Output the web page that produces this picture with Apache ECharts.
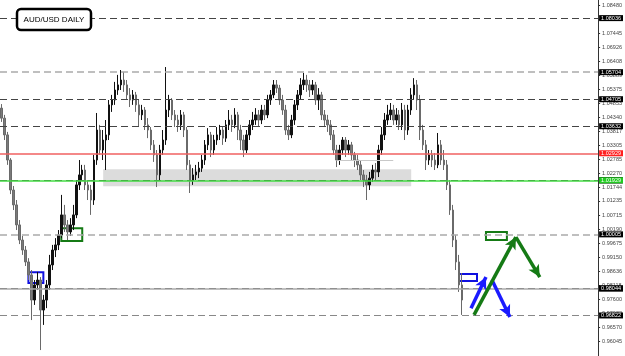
<!DOCTYPE html>
<html>
<head>
<meta charset="utf-8">
<script src="https://cdn.jsdelivr.net/npm/echarts@6/dist/echarts.min.js"></script>
<style>
  html, body { margin: 0; padding: 0; background: #fff; }
  #main { width: 625px; height: 356px; }
</style>
</head>
<body>
<div id="main"></div>
<script>
// AUD/USD daily candles
var opens = [1.0467,1.0430,1.0368,1.0275,1.0164,1.0109,1.0035,0.9979,0.9942,0.9898,
  0.9850,0.9757,0.9813,0.9831,0.9720,0.9757,0.9813,0.9887,0.9942,0.9961,
  0.9998,1.0072,1.0035,1.0009,1.0035,1.0072,1.0183,1.0220,1.0238,1.0183,
  1.0164,1.0127,1.0275,1.0386,1.0312,1.0349,1.0368,1.0479,1.0497,1.0534,
  1.0553,1.0571,1.0553,1.0516,1.0497,1.0516,1.0479,1.0442,1.0460,1.0405,
  1.0386,1.0331,1.0294,1.0220,1.0312,1.0349,1.0460,1.0497,1.0442,1.0423,
  1.0405,1.0442,1.0386,1.0257,1.0201,1.0220,1.0231,1.0245,1.0275,1.0331,
  1.0368,1.0312,1.0349,1.0368,1.0386,1.0356,1.0405,1.0423,1.0405,1.0442,
  1.0386,1.0349,1.0312,1.0368,1.0405,1.0423,1.0442,1.0423,1.0460,1.0442,
  1.0497,1.0516,1.0553,1.0541,1.0497,1.0460,1.0386,1.0368,1.0423,1.0479,
  1.0516,1.0553,1.0571,1.0553,1.0534,1.0553,1.0497,1.0516,1.0442,1.0423,
  1.0405,1.0368,1.0312,1.0275,1.0312,1.0349,1.0312,1.0331,1.0294,1.0275,
  1.0257,1.0220,1.0201,1.0183,1.0208,1.0238,1.0231,1.0312,1.0368,1.0423,
  1.0442,1.0460,1.0423,1.0442,1.0405,1.0460,1.0386,1.0460,1.0516,1.0553,
  1.0497,1.0386,1.0331,1.0275,1.0294,1.0275,1.0257,1.0331,1.0275,1.0257,
  1.0183,1.0090,0.9979,0.9898,0.9813];
var closes = [1.0430,1.0368,1.0275,1.0164,1.0109,1.0035,0.9979,0.9942,0.9898,0.9850,
  0.9757,0.9813,0.9831,0.9720,0.9757,0.9813,0.9887,0.9942,0.9961,0.9998,
  1.0072,1.0035,1.0009,1.0035,1.0072,1.0183,1.0220,1.0238,1.0183,1.0164,
  1.0127,1.0275,1.0386,1.0312,1.0349,1.0368,1.0479,1.0497,1.0534,1.0553,
  1.0571,1.0553,1.0516,1.0497,1.0516,1.0479,1.0442,1.0460,1.0405,1.0386,
  1.0331,1.0294,1.0220,1.0312,1.0349,1.0460,1.0497,1.0442,1.0423,1.0405,
  1.0442,1.0386,1.0257,1.0201,1.0220,1.0231,1.0245,1.0275,1.0331,1.0368,
  1.0312,1.0349,1.0368,1.0386,1.0356,1.0405,1.0423,1.0405,1.0442,1.0386,
  1.0349,1.0312,1.0368,1.0405,1.0423,1.0442,1.0423,1.0460,1.0442,1.0497,
  1.0516,1.0553,1.0541,1.0497,1.0460,1.0386,1.0368,1.0423,1.0479,1.0516,
  1.0553,1.0571,1.0553,1.0534,1.0553,1.0497,1.0516,1.0442,1.0423,1.0405,
  1.0368,1.0312,1.0275,1.0312,1.0349,1.0312,1.0331,1.0294,1.0275,1.0257,
  1.0220,1.0201,1.0183,1.0208,1.0238,1.0231,1.0312,1.0368,1.0423,1.0442,
  1.0460,1.0423,1.0442,1.0405,1.0460,1.0386,1.0460,1.0516,1.0553,1.0497,
  1.0386,1.0331,1.0275,1.0294,1.0275,1.0257,1.0331,1.0275,1.0257,1.0183,
  1.0090,0.9979,0.9898,0.9813,0.9757];
var lows = [1.0416,1.0349,1.0257,1.0149,1.0090,1.0016,0.9964,0.9924,0.9883,0.9831,
  0.9683,0.9739,0.9794,0.9572,0.9665,0.9727,0.9794,0.9868,0.9916,0.9942,
  0.9986,1.0009,0.9979,0.9994,1.0016,1.0060,1.0164,1.0201,1.0164,1.0127,
  1.0072,1.0109,1.0257,1.0294,1.0275,1.0238,1.0349,1.0453,1.0479,1.0516,
  1.0534,1.0527,1.0497,1.0471,1.0479,1.0453,1.0397,1.0423,1.0386,1.0356,
  1.0312,1.0268,1.0175,1.0201,1.0294,1.0331,1.0434,1.0423,1.0397,1.0379,
  1.0386,1.0360,1.0238,1.0153,1.0183,1.0201,1.0208,1.0231,1.0257,1.0312,
  1.0286,1.0294,1.0331,1.0349,1.0331,1.0342,1.0386,1.0379,1.0393,1.0349,
  1.0312,1.0286,1.0301,1.0349,1.0386,1.0405,1.0397,1.0408,1.0423,1.0430,
  1.0479,1.0504,1.0523,1.0479,1.0442,1.0368,1.0349,1.0356,1.0405,1.0460,
  1.0497,1.0534,1.0527,1.0508,1.0516,1.0479,1.0460,1.0423,1.0397,1.0379,
  1.0349,1.0294,1.0249,1.0257,1.0294,1.0286,1.0294,1.0275,1.0249,1.0238,
  1.0201,1.0175,1.0127,1.0164,1.0194,1.0201,1.0212,1.0294,1.0349,1.0405,
  1.0423,1.0405,1.0405,1.0386,1.0386,1.0349,1.0368,1.0442,1.0497,1.0460,
  1.0349,1.0312,1.0238,1.0257,1.0249,1.0238,1.0245,1.0257,1.0238,1.0164,
  1.0072,0.9953,0.9868,0.9787,0.9702];
var highs = [1.0482,1.0442,1.0379,1.0282,1.0179,1.0127,1.0053,0.9994,0.9957,0.9912,
  0.9868,0.9831,0.9861,0.9842,0.9776,0.9831,0.9924,0.9961,0.9986,1.0016,
  1.0146,1.0109,1.0053,1.0060,1.0109,1.0201,1.0275,1.0257,1.0257,1.0201,
  1.0183,1.0294,1.0449,1.0405,1.0386,1.0423,1.0497,1.0516,1.0564,1.0590,
  1.0608,1.0601,1.0571,1.0541,1.0534,1.0527,1.0497,1.0479,1.0471,1.0430,
  1.0397,1.0349,1.0312,1.0331,1.0386,1.0619,1.0516,1.0504,1.0460,1.0442,
  1.0460,1.0453,1.0397,1.0275,1.0245,1.0257,1.0268,1.0294,1.0349,1.0393,
  1.0379,1.0368,1.0397,1.0405,1.0397,1.0423,1.0460,1.0442,1.0467,1.0453,
  1.0405,1.0368,1.0386,1.0423,1.0453,1.0467,1.0460,1.0479,1.0479,1.0516,
  1.0534,1.0571,1.0571,1.0553,1.0516,1.0479,1.0405,1.0442,1.0497,1.0534,
  1.0578,1.0597,1.0590,1.0571,1.0571,1.0564,1.0541,1.0527,1.0460,1.0442,
  1.0423,1.0386,1.0331,1.0331,1.0360,1.0360,1.0349,1.0342,1.0305,1.0294,
  1.0275,1.0238,1.0220,1.0231,1.0257,1.0264,1.0331,1.0397,1.0449,1.0479,
  1.0486,1.0479,1.0467,1.0460,1.0486,1.0479,1.0479,1.0541,1.0578,1.0571,
  1.0516,1.0405,1.0349,1.0312,1.0312,1.0301,1.0375,1.0349,1.0312,1.0275,
  1.0201,1.0109,0.9998,0.9924,0.9857];

// price levels drawn across the chart (coloured ones last so they sit on top)
var levelPrices = [1.08036, 1.05704, 1.04705, 1.03632, 1.02411, 1.01781, 1.00005, 0.98450, 0.98044, 0.96822, 1.02929, 1.01929];
var levelKinds  = ['dark', 'light', 'dark', 'dark', 'dark', 'dark', 'light', 'dark', 'solid', 'mid', 'red', 'green'];

// right axis tick labels
var tickLabels = ['1.08480','1.07962','1.07445','1.06926','1.06408','1.05889','1.05375','1.04853','1.04340','1.03817',
  '1.03305','1.02785','1.02270','1.01744','1.01235','1.00715','1.00190','0.99675','0.99150','0.98636',
  '0.98118','0.97600','0.97082','0.96570','0.96045'];

// zone, boxes and arrows: [barIndex, price]
var zone = [[34, 1.02411], [137, 1.01781]];
var shortLine = [[112, 1.0275], [131, 1.0275]];
var blueBoxes = [[[9, 0.9860], [14, 0.9820]], [[153, 0.9853], [159, 0.9827]]];
var greenBoxes = [[[20, 1.0023], [27, 0.9975]], [[162, 1.0009], [169, 0.9979]]];
var blueArrows = [[[157, 0.9727], [162, 0.9842]], [[164, 0.9831], [170, 0.9694]]];
var greenArrows = [[[158, 0.9702], [172, 0.9990]], [[172, 0.9990], [180, 0.9842]]];

var totalBars = 200;
var cats = [];
for (var i = 0; i < totalBars; i++) cats.push(String(i));
var candles = opens.map(function (o, k) { return [o, closes[k], lows[k], highs[k]]; });

var kindStyle = {
  dark:  { color: '#444', type: [7, 4], width: 1, bg: '#000' },
  light: { color: '#aaa', type: [7, 4], width: 1.5, bg: '#000' },
  mid:   { color: '#888', type: [7, 4], width: 1, bg: '#000' },
  red:   { color: '#f06060', type: 'solid', width: 1.5, bg: '#ff2020' },
  green: { color: '#44dd44', type: 'solid', width: 1.5, bg: '#22cc22' },
  solid: { color: '#aaa', type: 'solid', width: 1.5, bg: '#000' }
};

var levelLines = levelPrices.map(function (p, k) {
  var s = kindStyle[levelKinds[k]];
  return {
    yAxis: p,
    lineStyle: { color: s.color, type: s.type, width: s.width, opacity: 1 },
    label: {
      show: true, position: 'end', distance: 1,
      formatter: p.toFixed(5),
      backgroundColor: s.bg, color: '#fff',
      fontSize: 5.5, lineHeight: 6, fontFamily: 'Liberation Sans', padding: [0, 2]
    }
  };
});
levelLines.push([
  { coord: shortLine[0], lineStyle: { color: '#c8c8c8', type: 'solid', width: 1 } },
  { coord: shortLine[1] }
]);

function boxArea(b, col) {
  return [
    { coord: b[0], itemStyle: { color: 'rgba(255,255,255,0.6)', borderColor: col, borderWidth: 2 } },
    { coord: b[1] }
  ];
}

var chart = echarts.init(document.getElementById('main'), null, { renderer: 'canvas' });
chart.setOption({
  animation: false,
  backgroundColor: '#fff',
  grid: { left: 0, right: 20, top: 0, bottom: 0 },
  xAxis: {
    type: 'category', data: cats, boundaryGap: true,
    axisLine: { show: false }, axisTick: { show: false }, axisLabel: { show: false }, splitLine: { show: false }
  },
  yAxis: {
    type: 'value', position: 'right', min: 0.9550, max: 1.0867, scale: true,
    axisLine: { show: true, lineStyle: { color: '#333', width: 1 } },
    axisTick: { show: true, length: 2, customValues: tickLabels.map(Number), lineStyle: { color: '#333' } },
    axisLabel: {
      show: true, fontSize: 5.5, color: '#444', margin: 4, fontFamily: 'Liberation Sans',
      customValues: tickLabels.map(Number),
      formatter: function (v) {
        var best = tickLabels[0], d = 1;
        tickLabels.forEach(function (t) { if (Math.abs(Number(t) - v) < d) { d = Math.abs(Number(t) - v); best = t; } });
        return best;
      }
    },
    splitLine: { show: false }
  },
  series: [
    {
      type: 'candlestick',
      data: candles,
      barWidth: 2,
      z: 3,
      itemStyle: { color: '#111', color0: '#7a7a7a', borderColor: '#111', borderColor0: '#6a6a6a', borderWidth: 1 }
    },
    {
      // grey zone underneath everything
      type: 'line', data: [], silent: true, z: 1,
      markArea: {
        silent: true,
        data: [
          [{ coord: zone[0], itemStyle: { color: '#dcdcdc' } }, { coord: zone[1] }]
        ]
      }
    },
    {
      // horizontal levels above the zone
      type: 'line', data: [], silent: true, z: 2,
      markLine: { silent: true, symbol: ['none', 'none'], data: levelLines }
    },
    {
      type: 'line', data: [], silent: true, z: 4,
      markArea: {
        silent: true,
        data: blueBoxes.map(function (b) { return boxArea(b, '#1010e0'); })
          .concat(greenBoxes.map(function (b) { return boxArea(b, '#157a15'); }))
      },
      markLine: {
        silent: true, symbol: ['none', 'arrow'], symbolSize: [9, 12],
        label: { show: false },
        data: blueArrows.map(function (a) {
          return [{ coord: a[0], lineStyle: { color: '#1a1aff', width: 3.5, type: 'solid' } }, { coord: a[1] }];
        }).concat(greenArrows.map(function (a) {
          return [{ coord: a[0], lineStyle: { color: '#157a15', width: 3.5, type: 'solid' } }, { coord: a[1] }];
        }))
      }
    }
  ],
  graphic: [{
    type: 'group', x: 17, y: 9, z: 100,
    children: [
      { type: 'rect', z: 100, shape: { x: 0, y: 0, width: 74, height: 21, r: 4 },
        style: { fill: '#fff', stroke: '#000', lineWidth: 2.5 } },
      { type: 'text', z: 101, x: 37, y: 11,
        style: { text: 'AUD/USD DAILY', fill: '#000', font: '8px "Liberation Sans"', align: 'center', verticalAlign: 'middle' } }
    ]
  }]
});
</script>
</body>
</html>
